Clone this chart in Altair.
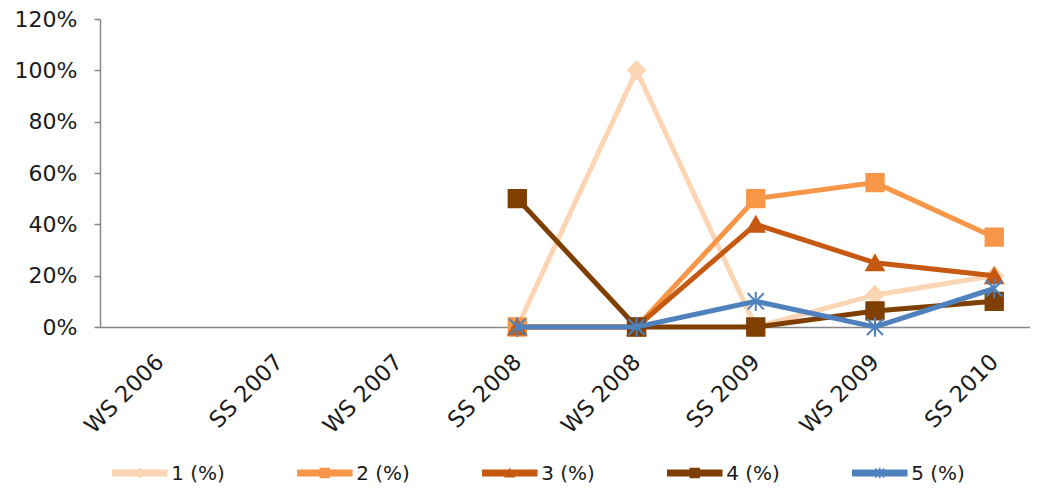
import json
import altair as alt
import pandas as pd

categories = ["WS 2006", "SS 2007", "WS 2007", "SS 2008", "WS 2008", "SS 2009", "WS 2009", "SS 2010"]
series_names = ["1 (%)", "2 (%)", "3 (%)", "4 (%)", "5 (%)"]
s1 = [None, None, None, 0.0, 1.00, 0.00, 0.125, 0.20]
s2 = [None, None, None, 0.0, 0.00, 0.50, 0.5625, 0.35]
s3 = [None, None, None, 0.0, 0.00, 0.40, 0.25, 0.20]
s4 = [None, None, None, 0.50, 0.00, 0.00, 0.0625, 0.10]
s5 = [None, None, None, 0.0, 0.00, 0.10, 0.00, 0.15]
y_ticks = [0, 0.2, 0.4, 0.6, 0.8, 1.0, 1.2]

colors = ["#FCD5B5", "#F79646", "#C65911", "#7F3F00", "#4F81BD"]
STAR = "M-1,-1L1,1M-1,1L1,-1M0,-1.2L0,1.2"
shapes = ["diamond", "square", "triangle-up", "square", STAR]
sizes = [300, 300, 300, 300, 260]

rows = []
for name, vals in zip(series_names, [s1, s2, s3, s4, s5]):
    for i, v in enumerate(vals):
        if v is not None:
            rows.append({"idx": i, "category": categories[i], "series": name, "value": v})
df = pd.DataFrame(rows)

font = "DejaVu Sans"
axis_color = "#868686"

xscale = alt.Scale(domain=[-0.5, 7.3], nice=False, zero=False)
xaxis = alt.Axis(
    values=list(range(len(categories))),
    labelExpr=json.dumps(categories) + "[datum.value]",
    ticks=False, grid=False, title=None,
    labelAngle=-45, labelAlign="right", labelBaseline="middle",
    labelPadding=31, labelFont=font, labelFontSize=22.5, labelColor="#1a1a1a",
    domainColor=axis_color, domainWidth=1.5, labelOverlap=False,
)
yscale = alt.Scale(domain=[0, 1.2], nice=False)
yaxis = alt.Axis(
    values=y_ticks, format=".0%", grid=False, title=None,
    tickSize=6, tickColor=axis_color, tickWidth=1.5,
    domainColor=axis_color, domainWidth=1.5,
    labelPadding=17, labelFont=font, labelFontSize=22, labelColor="#1a1a1a",
)

layers = []
for i, name in enumerate(series_names):
    base = alt.Chart(df).transform_filter(alt.datum.series == name)
    enc = dict(
        x=alt.X("idx:Q", scale=xscale, axis=xaxis),
        y=alt.Y("value:Q", scale=yscale, axis=yaxis),
    )
    line = base.mark_line(color=colors[i], strokeWidth=5).encode(**enc)
    if shapes[i] == STAR:
        pt = base.mark_point(shape=STAR, size=sizes[i], filled=False,
                             stroke=colors[i], strokeWidth=2, opacity=1).encode(**enc)
    else:
        pt = base.mark_point(shape=shapes[i], size=sizes[i], filled=True,
                             fill=colors[i], stroke=colors[i], opacity=1).encode(**enc)
    layers += [line, pt]

main = alt.layer(*layers).properties(width=930, height=308)

leg_df = pd.DataFrame({"series": series_names, "k": list(range(len(series_names)))})
leg_x = alt.Scale(domain=[-0.065, 4.962], nice=False, zero=False)
leg_color = alt.Scale(domain=series_names, range=colors)
leg_shape = alt.Scale(domain=series_names, range=shapes)
leg_base = alt.Chart(leg_df)
leg_line = leg_base.transform_calculate(x0="datum.k", x1="datum.k + 0.30").mark_rule(strokeWidth=7).encode(
    x=alt.X("x0:Q", scale=leg_x, axis=None),
    x2="x1:Q",
    y=alt.value(8),
    color=alt.Color("series:N", scale=leg_color, legend=None),
)
leg_pt = leg_base.transform_calculate(xm="datum.k + 0.15").mark_point(filled=True, size=80, strokeWidth=1.5, opacity=1).encode(
    x=alt.X("xm:Q", scale=leg_x, axis=None),
    y=alt.value(8),
    color=alt.Color("series:N", scale=leg_color, legend=None),
    stroke=alt.Stroke("series:N", scale=leg_color, legend=None),
    shape=alt.Shape("series:N", scale=leg_shape, legend=None),
)
leg_txt = leg_base.transform_calculate(xt="datum.k + 0.32").mark_text(
    align="left", baseline="middle", font=font, fontSize=20, color="#1a1a1a"
).encode(
    x=alt.X("xt:Q", scale=leg_x, axis=None),
    y=alt.value(9),
    text="series:N",
)
legend = alt.layer(leg_line, leg_pt, leg_txt).properties(width=930, height=16)

chart = alt.vconcat(main, legend, spacing=26).properties(
    padding={"left": 6, "top": 0, "right": 0, "bottom": 0}
).configure(background="white").configure_view(stroke=None)

chart.save("out.html", embed_options={"renderer": "svg", "actions": False})
